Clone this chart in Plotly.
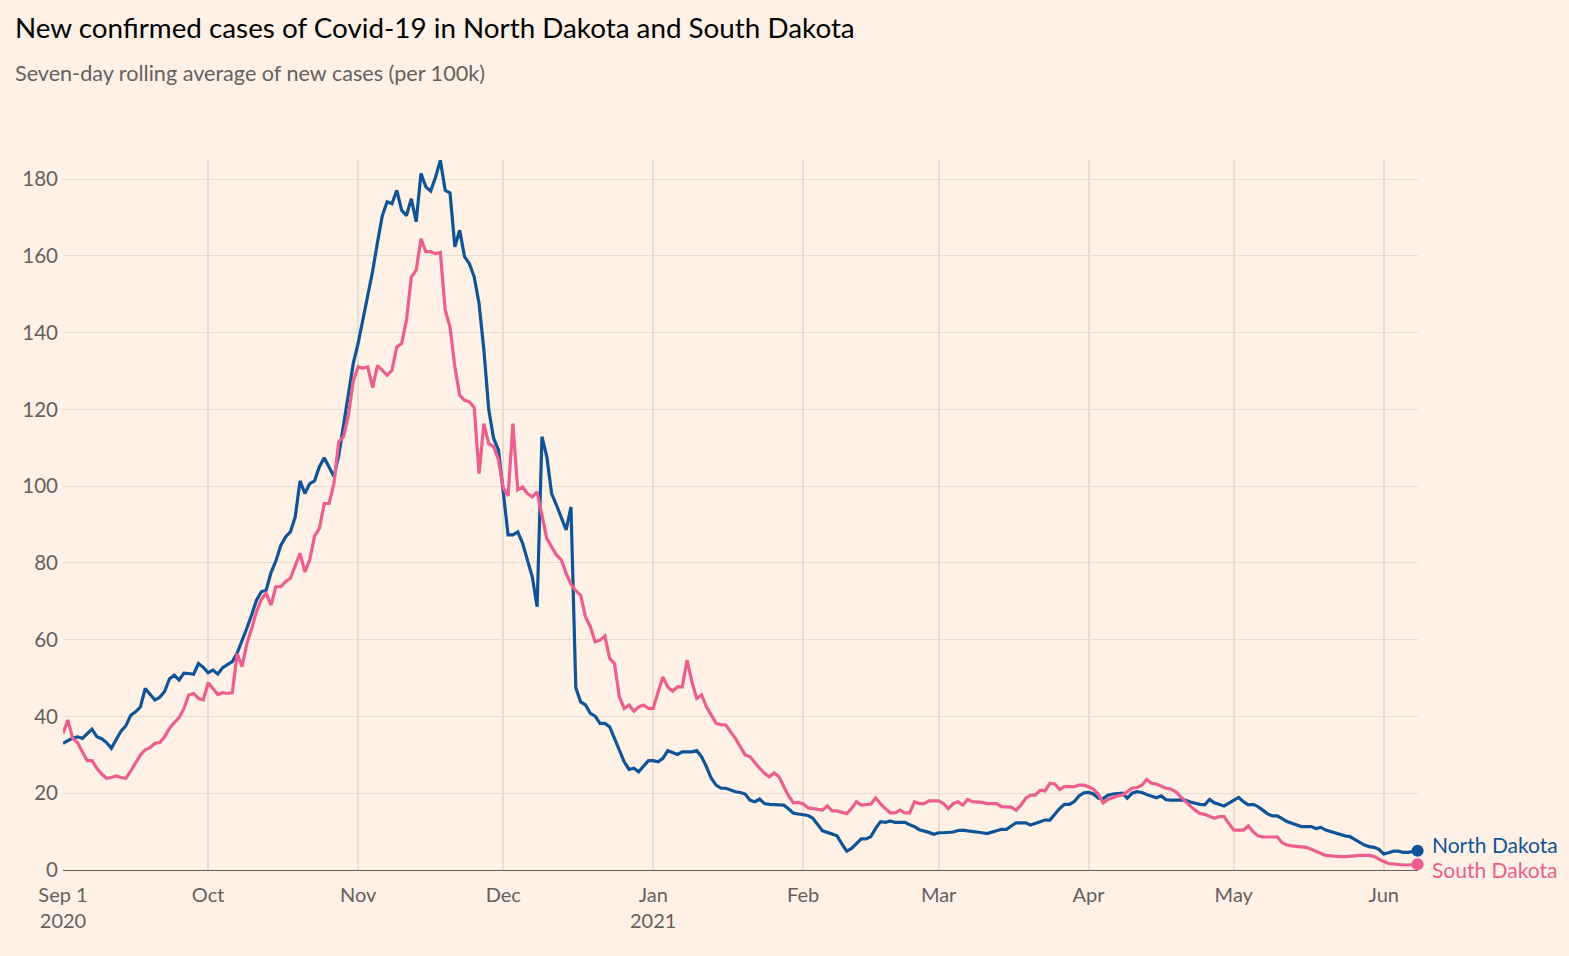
import pandas as pd
import plotly.graph_objects as go

start_date = "2020-09-01"

north_dakota = [
    33.0, 33.6, 34.4, 34.7, 34.3, 35.5, 36.7, 34.7, 34.2, 33.2,
    31.7, 34.0, 36.2, 37.6, 40.3, 41.2, 42.5, 47.3, 45.8, 44.3,
    45.0, 46.5, 49.8, 50.8, 49.5, 51.3, 51.2, 51.0, 53.8, 52.8,
    51.4, 52.1, 51.1, 52.7, 53.5, 54.3, 56.5, 59.5, 63.0, 66.5,
    70.3, 72.5, 72.9, 77.5, 80.5, 84.5, 86.8, 88.1, 92.0, 101.4,
    98.1, 100.7, 101.4, 105.1, 107.4, 105.0, 102.5, 108.0, 116.0, 124.0,
    132.0, 137.2, 143.3, 150.2, 156.0, 163.5, 170.5, 174.1, 173.6, 177.1,
    171.9, 170.5, 174.9, 168.9, 181.5, 178.0, 176.9, 180.5, 184.9, 177.1,
    176.4, 162.4, 166.7, 159.8, 158.0, 154.5, 147.6, 135.5, 120.0, 112.5,
    109.5, 98.5, 87.3, 87.3, 88.1, 85.1, 80.8, 76.4, 68.6, 112.9,
    107.7, 98.1, 95.1, 92.0, 88.6, 94.6, 47.5, 43.8, 43.0, 40.8,
    40.1, 38.2, 38.2, 37.3, 34.3, 30.8, 28.2, 26.2, 26.5, 25.6,
    27.1, 28.5, 28.5, 28.2, 29.1, 31.1, 30.6, 30.1, 30.8, 30.8,
    30.8, 31.1, 29.5, 26.9, 23.9, 22.1, 21.3, 21.3, 20.8, 20.4,
    20.2, 19.8, 18.2, 17.8, 18.5, 17.3, 17.1, 17.1, 17.1, 16.9,
    15.9, 14.8, 14.6, 14.4, 14.2, 13.5, 12.0, 10.2, 9.8, 9.4,
    8.9, 6.8, 4.9, 5.6, 6.9, 8.1, 8.1, 8.7, 10.9, 12.6,
    12.4, 12.8, 12.4, 12.4, 12.4, 11.8, 11.3, 10.5, 10.2, 9.8,
    9.3, 9.7, 9.7, 9.8, 9.9, 10.3, 10.4, 10.2, 10.1, 9.9,
    9.7, 9.5, 9.9, 10.4, 10.6, 10.6, 11.4, 12.3, 12.3, 12.3,
    11.7, 12.1, 12.5, 13.0, 13.0, 14.6, 16.0, 17.1, 17.1, 17.8,
    19.3, 20.1, 20.2, 19.8, 18.7, 18.6, 19.5, 19.8, 20.0, 20.0,
    18.7, 20.0, 20.4, 20.2, 19.7, 19.3, 18.8, 19.3, 18.3, 18.2,
    18.2, 18.4, 18.2, 17.7, 17.3, 17.1, 17.0, 18.4, 17.5, 17.0,
    16.7, 17.4, 18.2, 18.9, 17.8, 17.0, 17.1, 16.5, 15.6, 14.6,
    14.1, 14.1, 13.4, 12.6, 12.2, 11.7, 11.3, 11.3, 11.3, 10.8,
    11.1, 10.4, 10.0, 9.5, 9.1, 8.9, 8.7, 8.0, 7.1, 6.5,
    6.1, 5.9, 5.4, 4.2, 4.5, 4.9, 4.9, 4.6, 4.6, 4.8,
    5.0,
]

south_dakota = [
    35.6, 39.1, 34.3, 33.2, 30.8, 28.5, 28.5, 26.5, 25.0, 23.9,
    24.1, 24.5, 24.1, 23.9, 25.8, 27.9, 30.0, 31.3, 31.9, 33.0,
    33.2, 34.7, 36.9, 38.4, 39.7, 42.1, 45.6, 46.0, 44.7, 44.3,
    48.8, 47.3, 45.7, 46.2, 46.0, 46.2, 56.4, 53.0, 59.0, 62.9,
    67.3, 70.5, 72.1, 69.0, 73.8, 73.8, 75.1, 76.0, 79.0, 82.5,
    77.7, 80.8, 87.0, 89.0, 95.5, 95.5, 100.7, 111.6, 112.9, 118.5,
    127.4, 131.1, 130.8, 131.1, 125.7, 131.4, 130.2, 128.9, 130.2, 136.3,
    137.2, 143.3, 154.5, 156.3, 164.5, 161.1, 161.1, 160.6, 160.9, 145.9,
    141.5, 131.1, 123.7, 122.4, 122.0, 120.5, 103.3, 116.3, 111.1, 110.3,
    107.0, 99.5, 97.5, 116.3, 99.0, 99.8, 98.1, 97.2, 98.5, 92.0,
    86.4, 84.2, 82.1, 80.8, 77.3, 74.5, 72.8, 71.6, 66.0, 63.4,
    59.5, 59.9, 61.0, 55.1, 53.8, 45.1, 42.1, 43.0, 41.4, 42.5,
    43.0, 42.1, 42.1, 46.4, 50.3, 47.7, 46.6, 47.7, 47.7, 54.7,
    49.0, 44.7, 45.6, 42.5, 40.4, 38.2, 37.9, 37.8, 36.0, 34.3,
    32.1, 30.0, 29.5, 27.9, 26.5, 25.2, 24.3, 25.3, 24.3, 21.7,
    19.3, 17.5, 17.6, 17.2, 16.2, 16.0, 15.8, 15.6, 16.7, 15.4,
    15.4, 15.1, 14.7, 16.0, 17.8, 16.9, 17.1, 17.2, 18.8, 17.2,
    16.0, 14.9, 14.9, 15.6, 14.9, 14.9, 17.8, 17.3, 17.3, 18.0,
    18.0, 18.0, 17.3, 16.0, 17.3, 17.8, 16.9, 18.4, 17.8, 17.8,
    17.6, 17.3, 17.3, 17.3, 16.5, 16.5, 16.4, 15.6, 16.9, 18.7,
    19.5, 19.5, 20.8, 20.6, 22.6, 22.4, 21.0, 21.7, 21.7, 21.7,
    22.1, 22.1, 21.7, 21.0, 19.8, 17.5, 18.4, 18.9, 19.3, 19.5,
    20.4, 21.3, 21.5, 22.1, 23.6, 22.6, 22.4, 21.9, 21.3, 21.1,
    20.4, 19.1, 17.8, 16.7, 15.6, 14.7, 14.5, 13.9, 13.5, 13.9,
    13.9, 12.1, 10.4, 10.4, 10.4, 11.5, 10.0, 8.9, 8.6, 8.6,
    8.6, 8.6, 7.1, 6.5, 6.3, 6.1, 6.1, 5.9, 5.4, 4.8,
    4.2, 3.8, 3.7, 3.5, 3.5, 3.5, 3.5, 3.7, 3.8, 3.8,
    3.8, 3.5, 2.8, 2.2, 1.7, 1.5, 1.3, 1.3, 1.3, 1.3,
    1.5,
]

tick_dates = ["2020-09-01", "2020-10-01", "2020-11-01", "2020-12-01", "2021-01-01",
              "2021-02-01", "2021-03-01", "2021-04-01", "2021-05-01", "2021-06-01"]
tick_labels = ["Sep 1<br>2020", "Oct", "Nov", "Dec", "Jan<br>2021",
               "Feb", "Mar", "Apr", "May", "Jun"]
y_ticks = [0, 20, 40, 60, 80, 100, 120, 140, 160, 180]

series_names = ["North Dakota", "South Dakota"]
series_colors = ["#0F5499", "#EB5E8D"]
series_values = [north_dakota, south_dakota]

BG = "#FFF1E5"
GRID = "#E9DCD0"
TXT = "#66605C"
FONT = "Lato, 'Noto Sans', sans-serif"

fig = go.Figure()
for name, color, vals in zip(series_names, series_colors, series_values):
    dates = pd.date_range(start_date, periods=len(vals), freq="D")
    fig.add_trace(go.Scatter(x=dates, y=vals, mode="lines", name=name,
                             line=dict(color=color, width=3.2), hoverinfo="x+y"))
for name, color, vals in zip(series_names, series_colors, series_values):
    dates = pd.date_range(start_date, periods=len(vals), freq="D")
    fig.add_trace(go.Scatter(x=[dates[-1]], y=[vals[-1]], mode="markers",
                             marker=dict(color=color, size=12), cliponaxis=False,
                             showlegend=False, hoverinfo="skip"))
    fig.add_annotation(x=dates[-1], y=vals[-1], text=name, showarrow=False,
                       xanchor="left", yanchor="middle", xshift=12,
                       yshift=(6 if name == "North Dakota" else -5),
                       font=dict(family=FONT, size=21, color=color))

fig.update_layout(
    width=1569, height=956,
    paper_bgcolor=BG, plot_bgcolor=BG,
    showlegend=False,
    margin=dict(l=63, r=151, t=160, b=86),
    title=dict(text="New confirmed cases of Covid-19 in North Dakota and South Dakota",
               x=15 / 1569, xanchor="left", y=1 - 28 / 956, yanchor="middle",
               font=dict(family=FONT, size=27.8, color="#000000")),
)
fig.add_annotation(text="Seven-day rolling average of new cases (per 100k)",
                   xref="paper", yref="paper", x=(13 - 63) / 1355, y=1 + (160 - 73) / 710,
                   xanchor="left", yanchor="middle", showarrow=False,
                   font=dict(family=FONT, size=21.6, color=TXT))

fig.update_xaxes(type="date", range=["2020-09-01", "2021-06-08 02:00"],
                 tickvals=tick_dates, ticktext=tick_labels,
                 showgrid=True, gridcolor=GRID, gridwidth=1.5,
                 showline=True, linecolor="#66605C", linewidth=1,
                 ticks="", ticklabelstandoff=7,
                 tickfont=dict(family=FONT, size=20, color=TXT),
                 zeroline=False)
fig.update_yaxes(range=[0, 185], tickvals=y_ticks,
                 showgrid=True, gridcolor=GRID, gridwidth=1,
                 zeroline=False, showline=False, ticks="", ticklabelstandoff=4,
                 tickfont=dict(family=FONT, size=20.5, color=TXT))

fig.write_html("out.html", config={"displayModeBar": False},
               post_script="document.body.style.margin='0px';")
